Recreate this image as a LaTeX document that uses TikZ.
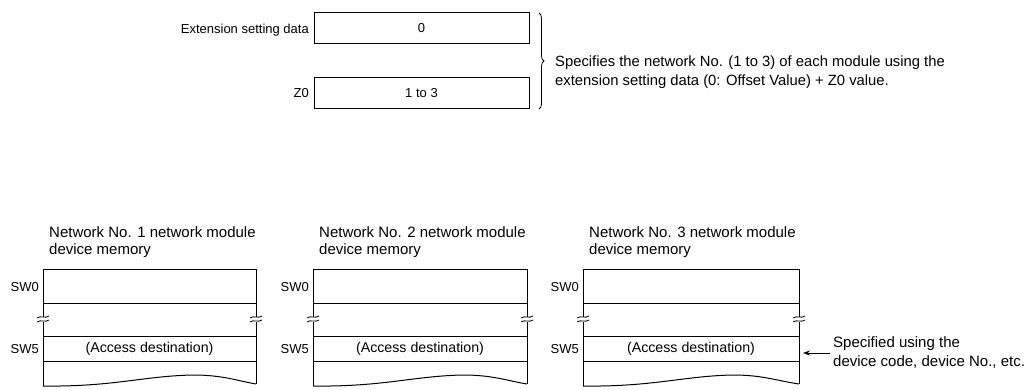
\documentclass[tikz,border=0pt]{standalone}
\usepackage{fontspec}
\setmainfont{Liberation Sans}
\usetikzlibrary{decorations.pathreplacing,arrows.meta}
\tikzset{
  reg/.style={draw, line width=1pt, minimum width=215pt, minimum height=31pt, inner sep=0pt, font=\fontsize{13}{15}\selectfont},
  lbl/.style={anchor=east, inner sep=0pt, font=\fontsize{13}{15}\selectfont},
  ttl/.style={anchor=north west, inner sep=0pt, align=left, font=\fontsize{15}{17.5}\selectfont},
  txt/.style={inner sep=0pt, font=\fontsize{14.2}{16}\selectfont},
  note/.style={anchor=west, inner sep=0pt, align=left, font=\fontsize{14.8}{19}\selectfont},
  mem/.style={line width=1pt},
  brk/.style={line width=0.8pt},
}
\begin{document}
\begin{tikzpicture}[x=1pt,y=-1pt]
\useasboundingbox (0,0) rectangle (1036,390);
% top registers
\node[reg] (ext) at (421.5,28.5) {0};
\node[reg] (zz) at (421.5,93) {1 to 3};
\draw[line width=1.6pt] (ext.north east) -- (ext.south east);
\draw[line width=1.6pt] (zz.north east) -- (zz.south east);
\node[lbl] (extl) at (309,30) {Extension setting data};
\node[lbl] (zzl) at (309,93) {Z0};
\coordinate (bt) at (539,13);
\coordinate (bb) at (539,109);
\draw[line width=0.8pt, decoration={brace, amplitude=5pt}, decorate] (bt) -- (bb);
\node[note] (spec) at (555,72.5) {Specifies the network No. (1 to 3) of each module using the\\extension setting data (0: Offset Value) + Z0 value.};
% memory blocks
\foreach \i/\x/\w in {1/43/213, 2/313/214, 3/583/216} {
  \pgfmathsetmacro{\xr}{\x+\w}
  \pgfmathsetmacro{\xc}{\x+\w/2}
  \node[ttl] (t\i) at (\x+6,226) {Network No. \i\ network module\\device memory};
  \draw[mem] (\x,317) -- (\x,269) -- (\xr,269) -- (\xr,317);
  \draw[mem] (\x,322) -- (\x,386);
  \draw[mem] (\xr,322) -- (\xr,384);
  \draw[mem] (\x,303) -- (\xr,303);
  \draw[mem] (\x,336) -- (\xr,336);
  \draw[mem] (\x,361) -- (\xr,361);
  \draw[mem] (\x,386) .. controls (\x+70,387) and (\x+100,376) .. (\x+150,375)
        .. controls (\x+180,375) and (\x+195,381) .. (\xr,384);
  \foreach \yy in {317,321} {
    \draw[brk] (\x-6,\yy+1) .. controls (\x-2,\yy-2) and (\x+2,\yy+2) .. (\x+6,\yy-1);
    \draw[brk] (\xr-6,\yy+1) .. controls (\xr-2,\yy-2) and (\xr+2,\yy+2) .. (\xr+6,\yy-1);
  }
  \node[lbl] (sw0\i) at (\x-4,287) {SW0};
  \node[lbl] (sw5\i) at (\x-4,349) {SW5};
  \node[txt] (acc\i) at (\xc,348.5) {(Access destination)};
}
\coordinate (tip) at (803,353);
\node[note, font=\fontsize{15}{19}\selectfont] (spc) at (833,353) {Specified using the\\device code, device No., etc.};
\draw[-{Stealth[length=7pt,width=5pt]}, line width=0.8pt] (spc.west) ++(-3,0) -- (tip);
\end{tikzpicture}
\end{document}
